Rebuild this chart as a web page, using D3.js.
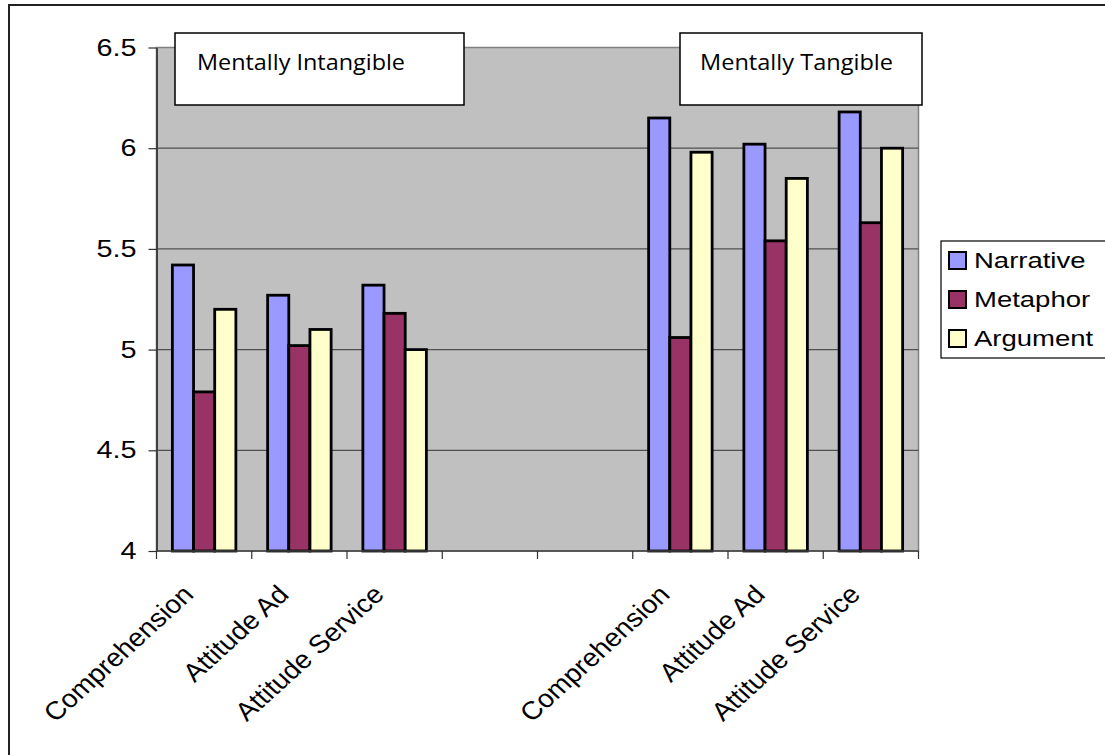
<!DOCTYPE html>
<html>
<head>
<meta charset="utf-8">
<script src="https://cdn.jsdelivr.net/npm/d3@7/dist/d3.min.js"></script>
<style>
  html, body { margin: 0; padding: 0; background: #fff; }
  svg { display: block; }
</style>
</head>
<body>
<svg id="chart" width="1105" height="755"></svg>
<script>
// ---- data ----
const categories = ["Comprehension", "Attitude Ad", "Attitude Service", "", "", "Comprehension", "Attitude Ad", "Attitude Service"];
const seriesNames = ["Narrative", "Metaphor", "Argument"];
const narrative = [5.42, 5.27, 5.32, null, null, 6.15, 6.02, 6.18];
const metaphor  = [4.79, 5.02, 5.18, null, null, 5.06, 5.54, 5.63];
const argument  = [5.20, 5.10, 5.00, null, null, 5.98, 5.85, 6.00];
const yTicks = [4, 4.5, 5, 5.5, 6, 6.5];
const groupLabels = ["Mentally Intangible", "Mentally Tangible"];
const seriesColors = ["#9999FF", "#993366", "#FFFFCC"];

const seriesValues = [narrative, metaphor, argument];

// ---- layout ----
const svg = d3.select("#chart");
const plot = { left: 156.5, right: 918.5, top: 47.5, bottom: 551 };
const SX = 1.2; // horizontal stretch of text seen in the reference

// outer frame
svg.append("rect")
  .attr("x", 9).attr("y", 5).attr("width", 1110).attr("height", 760)
  .attr("fill", "#fff").attr("stroke", "#222").attr("stroke-width", 2);

const x0 = d3.scaleBand().domain(d3.range(categories.length)).range([plot.left, plot.right]).paddingInner(0).paddingOuter(0);
const x1 = d3.scaleBand().domain(seriesNames).range([0, x0.bandwidth()]).paddingInner(0).paddingOuter(0.75);
const y = d3.scaleLinear().domain([4, 6.5]).range([plot.bottom, plot.top]);

// plot background
svg.append("rect")
  .attr("x", plot.left).attr("y", plot.top)
  .attr("width", plot.right - plot.left).attr("height", plot.bottom - plot.top)
  .attr("fill", "#C0C0C0").attr("stroke", "#808080").attr("stroke-width", 1.5);

// gridlines
svg.append("g").selectAll("line")
  .data(yTicks.filter(t => t > 4))
  .join("line")
  .attr("x1", plot.left).attr("x2", plot.right)
  .attr("y1", d => y(d)).attr("y2", d => y(d))
  .attr("stroke", d => d === 6.5 ? "#808080" : "#505050").attr("stroke-width", 1.2);

// bars
const barData = [];
categories.forEach((c, i) => {
  seriesNames.forEach((s, j) => {
    const v = seriesValues[j][i];
    if (v != null) barData.push({ i, s, j, v });
  });
});
svg.append("g").selectAll("rect")
  .data(barData)
  .join("rect")
  .attr("x", d => x0(d.i) + x1(d.s))
  .attr("y", d => y(d.v))
  .attr("width", x1.bandwidth())
  .attr("height", d => y(4) - y(d.v))
  .attr("fill", d => seriesColors[d.j])
  .attr("stroke", "#000").attr("stroke-width", 2.8);

// y axis
const yAxis = svg.append("g")
  .attr("transform", `translate(${plot.left},0)`)
  .call(d3.axisLeft(y).tickValues(yTicks).tickSize(8).tickSizeOuter(0).tickFormat(d3.format("")));
yAxis.select(".domain").attr("stroke", "#404040").attr("stroke-width", 2);
yAxis.selectAll(".tick line").attr("stroke", "#303030").attr("stroke-width", 1.2);
yAxis.selectAll(".tick text")
  .attr("x", 0)
  .attr("transform", `translate(-20,0) scale(${SX},1)`)
  .attr("font-family", "'Liberation Sans', Arial, sans-serif")
  .attr("font-size", 24).attr("fill", "#000");

// x axis line and ticks at category boundaries
const xAxisG = svg.append("g");
xAxisG.append("line")
  .attr("x1", plot.left).attr("x2", plot.right)
  .attr("y1", plot.bottom).attr("y2", plot.bottom)
  .attr("stroke", "#404040").attr("stroke-width", 1.5);
const boundaries = d3.range(categories.length + 1).map(i => i < categories.length ? x0(i) : x0(i - 1) + x0.bandwidth());
xAxisG.selectAll("line.tk")
  .data(boundaries)
  .join("line").attr("class", "tk")
  .attr("x1", d => d).attr("x2", d => d)
  .attr("y1", plot.bottom).attr("y2", plot.bottom + 8)
  .attr("stroke", "#303030").attr("stroke-width", 1.2);

// rotated category labels
xAxisG.selectAll("text")
  .data(categories.map((c, i) => ({ c, i })).filter(d => d.c !== ""))
  .join("text")
  .attr("transform", d => `translate(${x0(d.i) + x0.bandwidth() / 2 - 9},${plot.bottom + 45}) scale(1.1,1) rotate(-45)`)
  .attr("text-anchor", "end")
  .attr("font-family", "'Liberation Sans', Arial, sans-serif")
  .attr("font-size", 25.5).attr("fill", "#000")
  .text(d => d.c);

// group annotation boxes
const notes = [
  { label: groupLabels[0], x: 175, w: 289, tx: 197, tl: 208 },
  { label: groupLabels[1], x: 680, w: 242, tx: 700, tl: 193 }
];
const ng = svg.append("g").selectAll("g").data(notes).join("g");
ng.append("rect")
  .attr("x", d => d.x).attr("y", 33).attr("width", d => d.w).attr("height", 72)
  .attr("fill", "#fff").attr("stroke", "#000").attr("stroke-width", 1.5);
ng.append("text")
  .attr("x", d => d.tx).attr("y", 70)
  .attr("textLength", d => d.tl).attr("lengthAdjust", "spacingAndGlyphs")
  .attr("font-family", "'Open Sans', 'Noto Sans', sans-serif")
  .attr("font-size", 21).attr("fill", "#000")
  .text(d => d.label);

// legend
const lg = svg.append("g");
lg.append("rect")
  .attr("x", 941).attr("y", 241).attr("width", 200).attr("height", 117)
  .attr("fill", "#fff").attr("stroke", "#000").attr("stroke-width", 1.2);
const li = lg.selectAll("g.it").data(seriesNames).join("g").attr("class", "it")
  .attr("transform", (d, i) => `translate(949,${252 + i * 39})`);
li.append("rect")
  .attr("width", 17).attr("height", 17)
  .attr("fill", (d, i) => seriesColors[i]).attr("stroke", "#000").attr("stroke-width", 2);
li.append("text")
  .attr("transform", `translate(25,16) scale(1.25,1)`)
  .attr("font-family", "'Liberation Sans', Arial, sans-serif")
  .attr("font-size", 22).attr("fill", "#000")
  .text(d => d);
</script>
</body>
</html>
